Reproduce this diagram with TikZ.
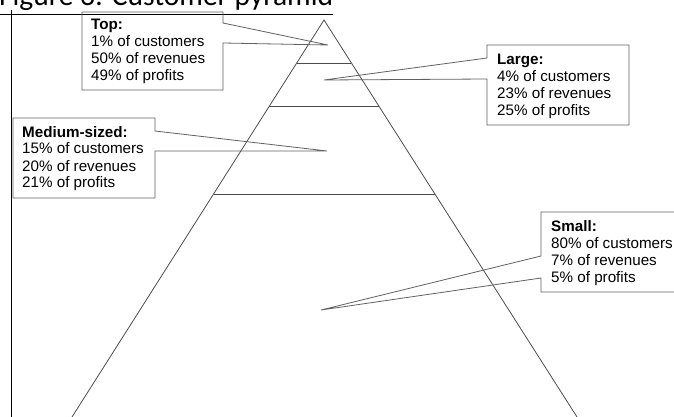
\documentclass[tikz,border=0pt]{standalone}
\usepackage{fontspec}
\setmainfont{Liberation Sans}
\newfontfamily\titlefont{Carlito}
\usetikzlibrary{calc}

% four-line label: bold heading plus three figures, baseline at the first line
\newcommand{\segmentlines}[4]{%
  \vtop{\baselineskip=17pt\hbox{\bfseries #1}\hbox{#2}\hbox{#3}\hbox{#4}}}

\tikzset{
  pyramidline/.style={draw=black!70, line width=0.8pt},
  calloutbox/.style={draw=black!62, line width=0.8pt, line join=miter},
  segmenttext/.style={anchor=base west, inner sep=0pt,
    font=\fontsize{15.2}{17}\selectfont},
}

\begin{document}
\begin{tikzpicture}[x=1pt, y=-1pt]
  \useasboundingbox (0,0) rectangle (674,417);
  \clip (0,0) rectangle (674,417);

  % heading (running off the top edge), underlined, and the rule down the left side
  \node[anchor=base west, inner sep=0pt, font=\titlefont\fontsize{29.5}{32}\selectfont]
    (title) at (-1,5.5) {Figure 3: Customer pyramid};
  \coordinate (ulstart) at (0,14.5);
  \coordinate (ulend) at (333,14.5);
  \draw[line width=1.6pt] (ulstart) -- (ulend);
  \coordinate (ruletop) at (11,10);
  \coordinate (rulebot) at (11,417);
  \draw[line width=0.9pt] (ruletop) -- (rulebot);

  % pyramid
  \coordinate (apex) at (324,20);
  \coordinate (bl) at (72,417);
  \coordinate (br) at (577,417);
  \draw[pyramidline] (bl) -- (apex) -- (br);
  \foreach \t/\n in {0.1083/a, 0.2166/b, 0.4383/c}{
    \coordinate (l\n) at ($(apex)!\t!(bl)$);
    \coordinate (r\n) at ($(apex)!\t!(br)$);
    \draw[pyramidline] (l\n) -- (r\n);
  }

  % pointer tips inside the tiers
  \coordinate (tipTop) at (328,45);
  \coordinate (tipLarge) at (324,80);
  \coordinate (tipMedium) at (327,151);
  \coordinate (tipSmall) at (321,310);

  % callout outlines
  \draw[calloutbox] (82,12) -- (223,12) -- (223,23) -- (tipTop) -- (223,43)
    -- (223,90) -- (82,90) -- cycle;
  \draw[calloutbox] (487,45) -- (629,45) -- (629,125) -- (487,125) -- (487,79)
    -- (tipLarge) -- (487,58) -- cycle;
  \draw[calloutbox] (13,118) -- (155,118) -- (155,131) -- (tipMedium) -- (155,151)
    -- (155,198) -- (13,198) -- cycle;
  \draw[calloutbox] (541,212) -- (690,212) -- (690,292) -- (541,292) -- (541,278)
    -- (tipSmall) -- (541,256) -- cycle;

  % callout texts
  \node[segmenttext] (top) at (91,30)
    {\segmentlines{Top:}{1\% of customers}{50\% of revenues}{49\% of profits}};
  \node[segmenttext] (large) at (497,65)
    {\segmentlines{Large:}{4\% of customers}{23\% of revenues}{25\% of profits}};
  \node[segmenttext] (medium) at (22,137)
    {\segmentlines{Medium-sized:}{15\% of customers}{20\% of revenues}{21\% of profits}};
  \node[segmenttext] (small) at (551,231)
    {\segmentlines{Small:}{80\% of customers}{7\% of revenues}{5\% of profits}};
\end{tikzpicture}
\end{document}
